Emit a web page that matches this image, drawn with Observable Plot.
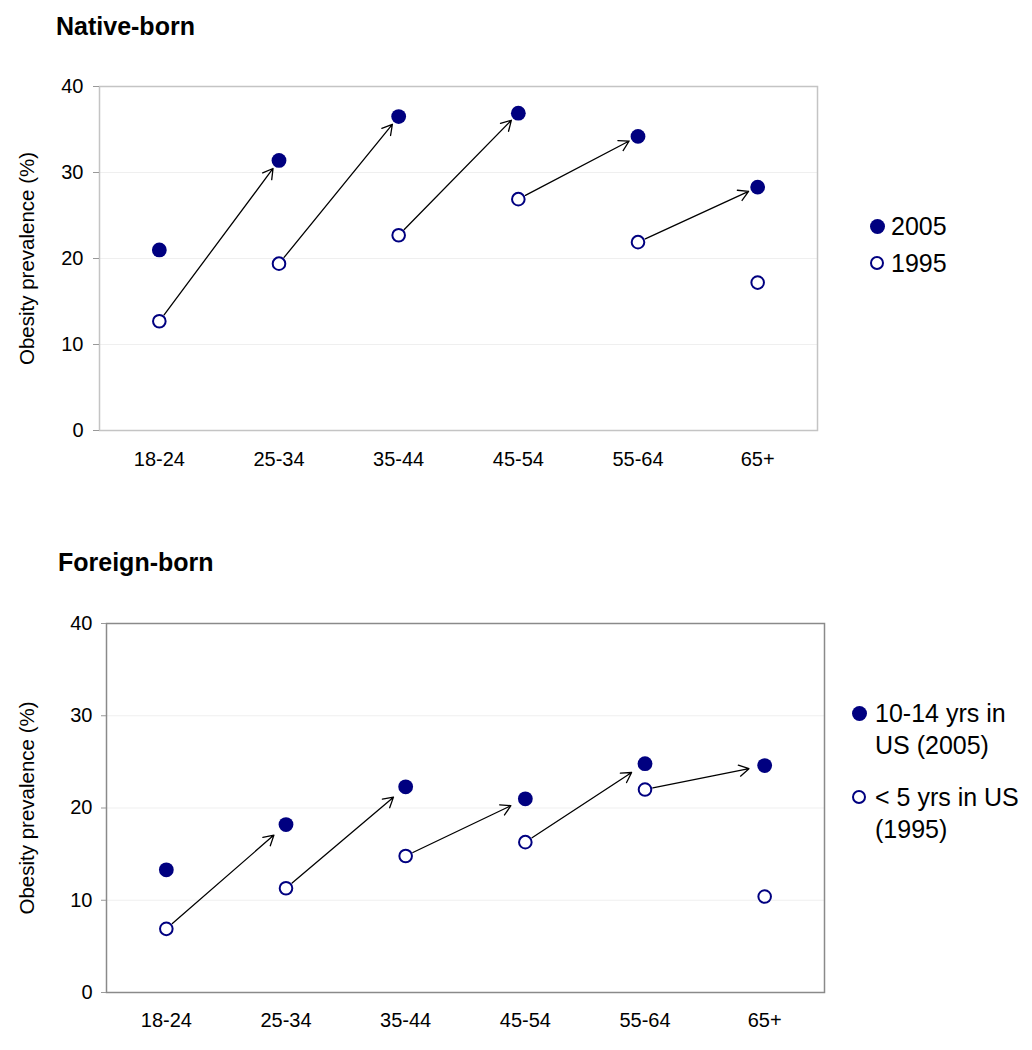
<!DOCTYPE html>
<html>
<head>
<meta charset="utf-8">
<script src="https://cdn.jsdelivr.net/npm/d3@7"></script>
<script src="https://cdn.jsdelivr.net/npm/@observablehq/plot@0.6"></script>
<style>
  html, body { margin: 0; padding: 0; background: #fff; }
  body { font-family: "Liberation Sans", Arial, sans-serif; }
  #root { position: relative; width: 1032px; height: 1050px; overflow: hidden; }
  .abs { position: absolute; }
  .title { font-weight: bold; font-size: 25px; color: #000; white-space: nowrap; }
  .leg { font-size: 25px; color: #000; line-height: 32px; white-space: nowrap; }
  .mk { position: absolute; border-radius: 50%; box-sizing: border-box; }
  .mk.fill { width: 15px; height: 15px; background: #000080; }
  .mk.open { width: 14px; height: 14px; background: #fff; border: 2px solid #000080; }
</style>
</head>
<body>
<div id="root"></div>
<script>
// ---- data ----
const ageGroups = ["18-24", "25-34", "35-44", "45-54", "55-64", "65+"];
const native2005 = [21.0, 31.4, 36.5, 36.9, 34.2, 28.3];
const native1995 = [12.7, 19.4, 22.7, 26.9, 21.9, 17.2];
const foreign2005 = [13.3, 18.2, 22.3, 21.0, 24.8, 24.6];
const foreign1995 = [6.9, 11.3, 14.8, 16.3, 22.0, 10.4];
const yTicks = [0, 10, 20, 30, 40];
const gridTicks = [10, 20, 30];
const panelTitles = ["Native-born", "Foreign-born"];
const yLabel = "Obesity prevalence (%)";
const legendNative = [["2005"], ["1995"]];
const legendForeign = [["10-14 yrs in", "US (2005)"], ["< 5 yrs in US", "(1995)"]];

const NAVY = "#000080";

function rows(vals) {
  return ageGroups.map((g, i) => ({age: g, value: vals[i]}));
}
function cohortArrows(v1995, v2005) {
  const out = [];
  for (let i = 0; i < ageGroups.length - 1; i++) {
    out.push({x1: ageGroups[i], y1: v1995[i], x2: ageGroups[i + 1], y2: v2005[i + 1]});
  }
  return out;
}

function panel({v2005, v1995, height, mt, mb, ml, mr, frameColor, tickSize, tickPad, xPad, insetStart, insetEnd, labelOffset}) {
  return Plot.plot({
    width: 1032,
    height,
    marginTop: mt,
    marginBottom: mb,
    marginLeft: ml,
    marginRight: mr,
    style: {fontFamily: "'Liberation Sans', Arial, sans-serif", fontSize: "20px", color: "#000", background: "#fff"},
    x: {type: "point", domain: ageGroups, padding: 0.5, align: 0.5, round: false},
    y: {domain: [0, 40], nice: false},
    marks: [
      Plot.gridY(gridTicks, {stroke: "#efefef", strokeOpacity: 1, strokeWidth: 1}),
      Plot.frame({stroke: frameColor, strokeWidth: 1.5}),
      Plot.axisY(yTicks, {
        tickSize, tickPadding: tickPad, stroke: "#999", fill: "#000", fontSize: 20,
        label: null
      }),
      Plot.axisY(yTicks, {
        tickSize: 0, text: null, fontSize: 20.5, fill: "#000",
        label: yLabel, labelAnchor: "center", labelArrow: "none", labelOffset
      }),
      Plot.axisX({tickSize: 0, tickPadding: xPad, fill: "#000", fontSize: 20, label: null}),
      Plot.arrow(cohortArrows(v1995, v2005), {
        x1: "x1", y1: "y1", x2: "x2", y2: "y2",
        stroke: "#000", strokeWidth: 1.3, headLength: 13, headAngle: 60,
        insetStart, insetEnd
      }),
      Plot.dot(rows(v2005), {x: "age", y: "value", r: 7.4, fill: NAVY, stroke: "none"}),
      Plot.dot(rows(v1995), {x: "age", y: "value", r: 6.3, fill: "#fff", stroke: NAVY, strokeWidth: 2})
    ]
  });
}

const root = document.getElementById("root");

function place(el, left, topPx) {
  el.classList.add("abs");
  el.style.left = left + "px";
  el.style.top = topPx + "px";
  root.appendChild(el);
  return el;
}

// Top panel
const topPanel = panel({
  v2005: native2005, v1995: native1995,
  height: 500, mt: 86, mb: 70, ml: 99, mr: 215,
  frameColor: "#c4c4c4", tickSize: 6, tickPad: 10, xPad: 21,
  insetStart: 8, insetEnd: 10, labelOffset: 80
});
place(topPanel, 0, 0);

// Bottom panel
const bottomPanel = panel({
  v2005: foreign2005, v1995: foreign1995,
  height: 550, mt: 123, mb: 58, ml: 106, mr: 208,
  frameColor: "#8a8a8a", tickSize: 5, tickPad: 9, xPad: 20,
  insetStart: 8, insetEnd: 16, labelOffset: 87
});
place(bottomPanel, 0, 500);

// Titles
function title(text, left, topPx) {
  const d = document.createElement("div");
  d.className = "title";
  d.textContent = text;
  place(d, left, topPx);
}
title(panelTitles[0], 56, 12);
title(panelTitles[1], 58, 548);

// Legends
function legendItem(lines, filled, mx, my, tx) {
  const m = document.createElement("div");
  m.className = "mk " + (filled ? "fill" : "open");
  const size = filled ? 15 : 14;
  m.style.left = (mx - size / 2) + "px";
  m.style.top = (my - size / 2) + "px";
  root.appendChild(m);
  const t = document.createElement("div");
  t.className = "leg";
  t.innerHTML = lines.map(s => s.replace(/&/g, "&amp;").replace(/</g, "&lt;")).join("<br>");
  place(t, tx, my - 16);
}
legendItem(legendNative[0], true, 877, 226, 891);
legendItem(legendNative[1], false, 877, 263, 891);
legendItem(legendForeign[0], true, 859, 713, 875);
legendItem(legendForeign[1], false, 859, 797, 875);
</script>
</body>
</html>
